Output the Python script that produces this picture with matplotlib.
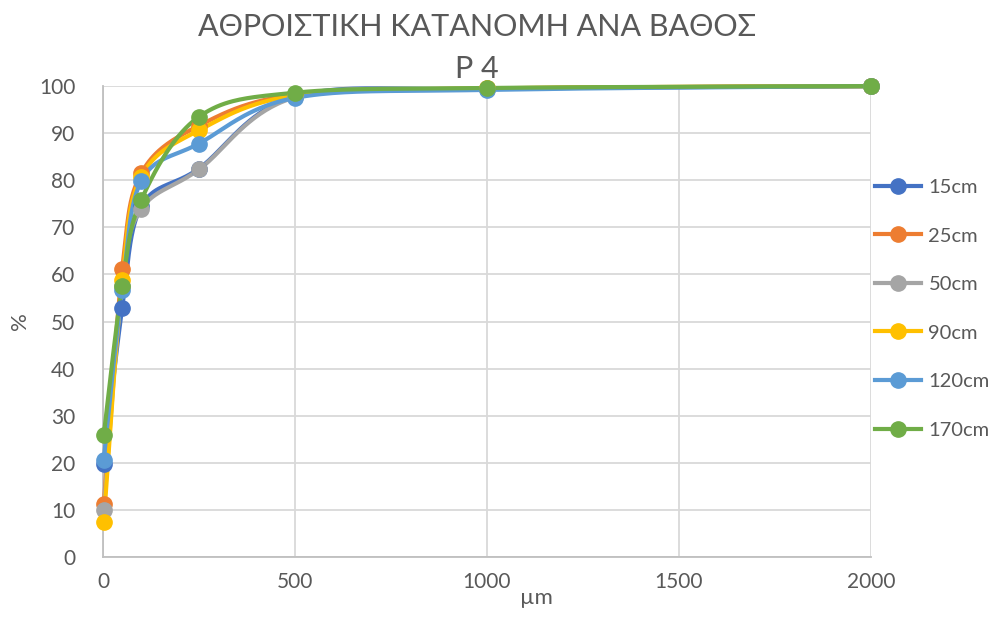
import numpy as np
import matplotlib
matplotlib.use("Agg")
import matplotlib.pyplot as plt

plt.rcParams['font.family'] = ['Lato', 'Noto Sans', 'DejaVu Sans']

# particle size (µm)
size_um = [2, 50, 100, 250, 500, 1000, 2000]
labels = ['15cm', '25cm', '50cm', '90cm', '120cm', '170cm']
p15 = [19.7, 52.8, 74.5, 82.5, 97.8, 99.4, 100]
p25 = [11.2, 61.1, 81.5, 91.6, 98.2, 99.5, 100]
p50 = [10.0, 57.5, 73.9, 82.3, 97.6, 99.4, 100]
p90 = [7.5, 58.8, 80.8, 90.6, 98.0, 99.5, 100]
p120 = [20.7, 56.7, 79.9, 87.8, 97.5, 99.2, 100]
p170 = [25.9, 57.6, 75.9, 93.5, 98.6, 99.6, 100]
series = [p15, p25, p50, p90, p120, p170]
colors = ['#4472C4', '#ED7D31', '#A5A5A5', '#FFC000', '#5B9BD5', '#70AD47']

fig = plt.figure(figsize=(10, 6.19), dpi=100)
ax = fig.add_axes([0.103, 0.1002, 0.768, 0.7607])
ax.set_xlim(0, 2000)
ax.set_ylim(0, 100)

# excel-like smoothing: bezier in screen-ish units
W, H = 768.0, 471.0


def smooth(xs, ys, n=40):
    px = np.array(xs, float) / 2000 * W
    py = np.array(ys, float) / 100 * H
    P = np.column_stack([px, py])
    out = [P[0]]
    for i in range(len(P) - 1):
        p0 = P[i - 1] if i > 0 else P[i]
        p1 = P[i]
        p2 = P[i + 1]
        p3 = P[i + 2] if i + 2 < len(P) else P[i + 1]
        c1 = p1 + (p2 - p0) / 6
        c2 = p2 - (p3 - p1) / 6
        t = np.linspace(0, 1, n)[1:, None]
        b = (1 - t) ** 3 * p1 + 3 * (1 - t) ** 2 * t * c1 + 3 * (1 - t) * t ** 2 * c2 + t ** 3 * p2
        out.extend(b)
    out = np.array(out)
    return out[:, 0] / W * 2000, out[:, 1] / H * 100


for lab, ys, c in zip(labels, series, colors):
    sx, sy = smooth(size_um, ys)
    ax.plot(sx, sy, color=c, lw=3, solid_capstyle='round', zorder=3, clip_on=False)
    ax.plot(size_um, ys, 'o', color=c, ms=11, zorder=4, clip_on=False)
    ax.plot([], [], '-o', color=c, lw=3, ms=11, label=lab)

ax.set_xticks([0, 500, 1000, 1500, 2000])
ax.set_yticks(range(0, 101, 10))
ax.grid(True, color='#D9D9D9', lw=1.3)
ax.set_axisbelow(True)
for s in ['top', 'right']:
    ax.spines[s].set_visible(False)
for s in ['left', 'bottom']:
    ax.spines[s].set_color('#BFBFBF')
    ax.spines[s].set_linewidth(1.3)
ax.tick_params(length=0, labelsize=15, colors='#595959', pad=11)
ax.tick_params(axis='y', pad=20)
for lbl in ax.get_xticklabels() + ax.get_yticklabels():
    lbl.set_color('#595959')

ax.set_xlabel('µm', fontsize=16, color='#595959')
ax.xaxis.set_label_coords(0.565, -0.065)
ax.set_ylabel('%', fontsize=16, color='#595959')
ax.yaxis.set_label_coords(-0.095, 0.5)

fig.text(0.477, 0.957, 'ΑΘΡΟΙΣΤΙΚΗ ΚΑΤΑΝΟΜΗ ΑΝΑ ΒΑΘΟΣ', ha='center', va='center',
         fontsize=22, color='#595959')
fig.text(0.477, 0.888, 'P 4', ha='center', va='center', fontsize=22, color='#595959')

leg = fig.legend(loc='upper left', bbox_to_anchor=(0.867, 0.724), frameon=False,
                 fontsize=14.5, labelspacing=1.56, handlelength=2.3, handletextpad=0.35,
                 labelcolor='#595959', borderaxespad=0)

fig.savefig('out.png', dpi=100)
